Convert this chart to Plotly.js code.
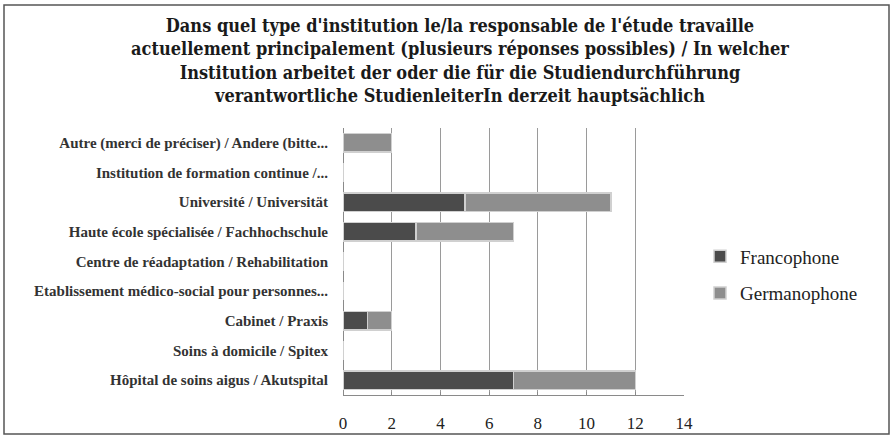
<!DOCTYPE html>
<html><head><meta charset="utf-8">
<script src="https://cdn.plot.ly/plotly-3.0.1.min.js"></script>
<style>html,body{margin:0;padding:0;background:#fff}#c{width:892px;height:438px}</style>
</head><body><div id="c"></div>
<script>
const categories = [
  "Hôpital de soins aigus / Akutspital",
  "Soins à domicile / Spitex",
  "Cabinet / Praxis",
  "Etablissement médico-social pour personnes...",
  "Centre de réadaptation / Rehabilitation",
  "Haute école spécialisée / Fachhochschule",
  "Université / Universität",
  "Institution de formation continue /...",
  "Autre (merci de préciser) / Andere (bitte..."
];
const francophone = [7, 0, 1, 0, 0, 3, 5, 0, 0];
const germanophone = [5, 0, 1, 0, 0, 4, 6, 0, 2];
const seriesNames = ["Francophone", "Germanophone"];
const xTicks = [0, 2, 4, 6, 8, 10, 12, 14];
const titleText = "Dans quel type d'institution le/la responsable de l'étude travaille<br>actuellement principalement (plusieurs réponses possibles) / In welcher<br>Institution arbeitet der oder die für die Studiendurchführung<br>verantwortliche StudienleiterIn derzeit hauptsächlich";

const serif = "Liberation Serif, DejaVu Serif, serif";
const cond = "DejaVu Serif Condensed, DejaVu Serif, serif";
const ml = 343, mr = 208, mt = 128, mb = 43, W = 892, H = 438;
const pw = W - ml - mr, ph = H - mt - mb;
const px = v => (v - ml) / pw;
const py = v => (H - mb - v) / ph;

const traces = [
  {type: 'bar', orientation: 'h', name: seriesNames[0], legendgroup: 'a', y: categories, x: francophone,
   marker: {color: '#4b4b4b', line: {color: '#d0d0d0', width: 1.5}}},
  {type: 'bar', orientation: 'h', name: seriesNames[1], legendgroup: 'b', y: categories, x: germanophone,
   marker: {color: '#8e8e8e', line: {color: '#d0d0d0', width: 1.5}}}
];

const layout = {
  width: W, height: H,
  margin: {l: ml, r: mr, t: mt, b: mb},
  paper_bgcolor: '#fff', plot_bgcolor: '#fff',
  barmode: 'stack', bargap: 0.38,
  showlegend: true,
  title: {text: titleText, x: 460 / W, xref: 'container', xanchor: 'center',
          y: 1 - 32 / H, yref: 'container', yanchor: 'middle',
          font: {family: cond, size: 18, color: '#1a1a1a', weight: 'bold'}},
  xaxis: {range: [0, 14], tickvals: xTicks, ticktext: xTicks.map(String),
          showgrid: true, gridcolor: '#9a9a9a', gridwidth: 1,
          zeroline: true, zerolinecolor: '#8a8a8a', zerolinewidth: 1,
          showline: true, linecolor: '#8a8a8a', linewidth: 1,
          ticks: 'inside', ticklen: 3, tickcolor: '#8a8a8a',
          ticklabelstandoff: 13,
          tickfont: {family: serif, size: 17, color: '#222'}, fixedrange: true},
  yaxis: {type: 'category', categoryorder: 'array', categoryarray: categories,
          showgrid: false, showline: false, ticks: '',
          ticklabelstandoff: 14,
          tickfont: {family: serif, size: 15, color: '#333', weight: 'bold'}, fixedrange: true},
  legend: {x: px(700), xanchor: 'left', y: py(275), yanchor: 'middle',
           traceorder: 'grouped', font: {family: serif, size: 19, color: '#222'},
           itemwidth: 30, tracegroupgap: 9, bgcolor: 'rgba(0,0,0,0)'},
  shapes: [
    {type: 'rect', xref: 'paper', yref: 'paper',
     x0: px(4), x1: px(889), y0: py(434), y1: py(5),
     line: {color: '#555', width: 1.5}, fillcolor: 'rgba(0,0,0,0)', layer: 'below'}
  ]
};

Plotly.newPlot('c', traces, layout, {displayModeBar: false, staticPlot: true});
</script>
</body></html>
